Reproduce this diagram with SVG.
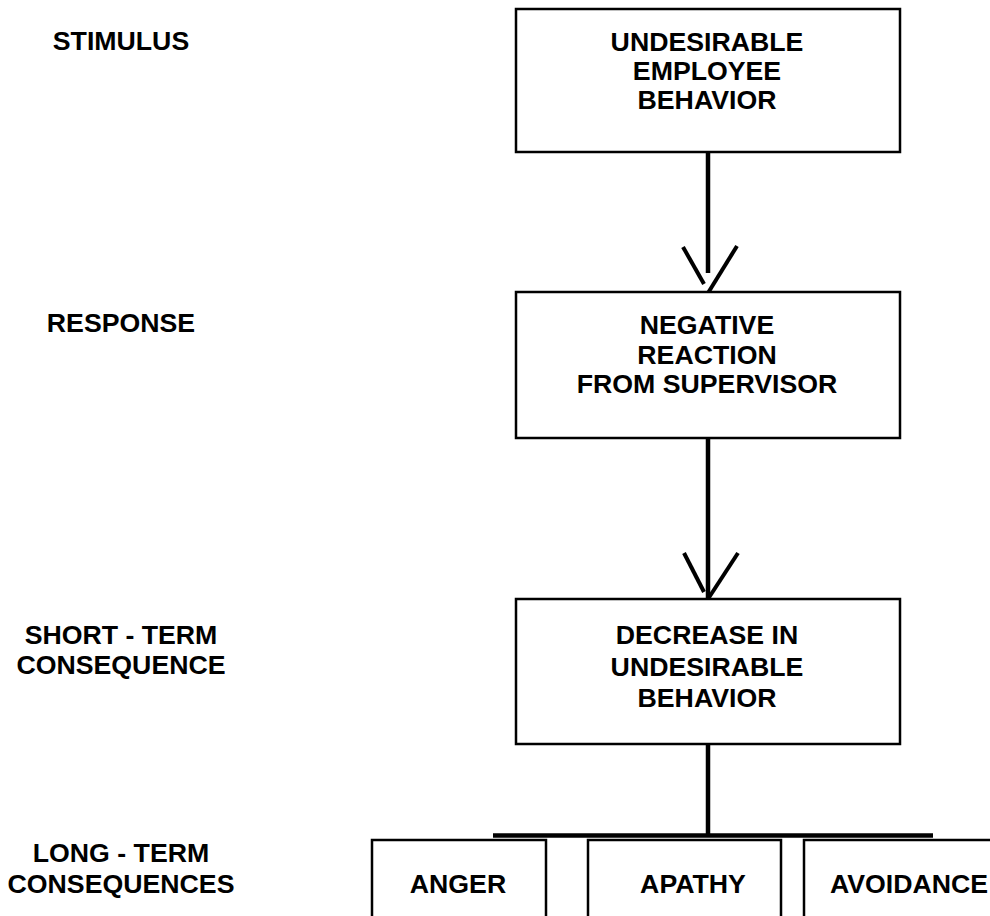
<svg xmlns="http://www.w3.org/2000/svg" width="990" height="916" viewBox="0 0 990 916">
<style>
text{font-family:"Liberation Sans",Arial,sans-serif;font-weight:bold;font-size:26.7px;fill:#000;text-anchor:middle}
.box{fill:#fff;stroke:#000;stroke-width:2.5}
.conn{stroke:#000;stroke-width:4.5;fill:none}
.head{stroke:#000;stroke-width:4;fill:none}
</style>
<rect width="990" height="916" fill="#fff"/>
<g id="labels">
<text x="121" y="50">STIMULUS</text>
<text x="121" y="332">RESPONSE</text>
<text x="121" y="644">SHORT - TERM</text>
<text x="121" y="674">CONSEQUENCE</text>
<text x="121" y="862">LONG - TERM</text>
<text x="121" y="893">CONSEQUENCES</text>
</g>
<g id="connectors">
<line class="conn" x1="708" y1="151" x2="708" y2="273"/>
<line class="head" x1="683" y1="247" x2="704" y2="284"/>
<line class="head" x1="737" y1="246" x2="708" y2="293"/>
<line class="conn" x1="708" y1="437" x2="708" y2="598"/>
<line class="head" x1="684" y1="553" x2="704" y2="592"/>
<line class="head" x1="738" y1="553" x2="708" y2="599"/>
<line class="conn" x1="708" y1="743" x2="708" y2="835"/>
<line class="conn" x1="493" y1="835.5" x2="933" y2="835.5"/>
</g>
<g id="n1">
<rect class="box" x="516" y="9" width="384" height="143"/>
<text x="707" y="51">UNDESIRABLE</text>
<text x="707" y="80">EMPLOYEE</text>
<text x="707" y="109">BEHAVIOR</text>
</g>
<g id="n2">
<rect class="box" x="516" y="292" width="384" height="146"/>
<text x="707" y="334">NEGATIVE</text>
<text x="707" y="364">REACTION</text>
<text x="707" y="393">FROM SUPERVISOR</text>
</g>
<g id="n3">
<rect class="box" x="516" y="599" width="384" height="145"/>
<text x="707" y="644">DECREASE IN</text>
<text x="707" y="676">UNDESIRABLE</text>
<text x="707" y="707">BEHAVIOR</text>
</g>
<g id="n4">
<rect class="box" x="372" y="840" width="174" height="90"/>
<text x="458" y="893">ANGER</text>
</g>
<g id="n5">
<rect class="box" x="588" y="840" width="193" height="90"/>
<text x="693" y="893">APATHY</text>
</g>
<g id="n6">
<rect class="box" x="804" y="840" width="200" height="90"/>
<text x="909" y="893">AVOIDANCE</text>
</g>
</svg>
